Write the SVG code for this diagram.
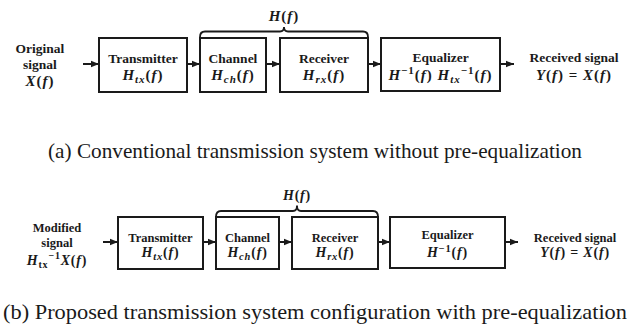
<svg xmlns="http://www.w3.org/2000/svg" width="632" height="332" viewBox="0 0 632 332">
<defs>
<marker id="ah" viewBox="0 0 8 8" refX="8" refY="4" markerWidth="8" markerHeight="8" markerUnits="userSpaceOnUse" orient="auto">
<path d="M0,0.8 L8,4 L0,7.2 Z" fill="#1a1a1a"/>
</marker>
<style>
.box{fill:#fff;stroke:#1a1a1a;stroke-width:2}
.ln{fill:none;stroke:#1a1a1a;stroke-width:2}
.br{fill:none;stroke:#1a1a1a;stroke-width:1.8}
.t{font-family:"Liberation Serif","Times New Roman",serif;font-weight:bold;fill:#1a1a1a;text-anchor:middle}
.a{font-size:13.5px}
.b{font-size:12.5px}
.ma{font-size:15px;font-style:italic;letter-spacing:1px}
.mb{font-size:14px;font-style:italic;letter-spacing:0.8px}
.u{font-style:normal}
.cap{font-family:"Liberation Serif","Times New Roman",serif;font-size:21px;fill:#1a1a1a;text-anchor:middle}
</style>
</defs>
<rect width="632" height="332" fill="#fff"/>

<g id="connectors">
<line class="ln" x1="83" y1="64" x2="99" y2="64" marker-end="url(#ah)"/>
<line class="ln" x1="187" y1="64" x2="200" y2="64" marker-end="url(#ah)"/>
<line class="ln" x1="266" y1="64" x2="280" y2="64" marker-end="url(#ah)"/>
<line class="ln" x1="368" y1="64" x2="381" y2="64" marker-end="url(#ah)"/>
<line class="ln" x1="500" y1="64" x2="514" y2="64" marker-end="url(#ah)"/>
<line class="ln" x1="103" y1="242" x2="118" y2="242" marker-end="url(#ah)"/>
<line class="ln" x1="203" y1="242" x2="216" y2="242" marker-end="url(#ah)"/>
<line class="ln" x1="279" y1="242" x2="292" y2="242" marker-end="url(#ah)"/>
<line class="ln" x1="378" y1="242" x2="390" y2="242" marker-end="url(#ah)"/>
<line class="ln" x1="505" y1="242" x2="518" y2="242" marker-end="url(#ah)"/>
</g>

<!-- Row (a) -->
<g id="a-input">
<text class="t a" x="40" y="53">Original</text>
<text class="t a" x="40" y="69">signal</text>
<text class="t ma" x="40" y="86">X<tspan class="u">(</tspan>f<tspan class="u">)</tspan></text>
</g>
<g id="a-transmitter">
<rect class="box" x="99" y="38" width="88" height="54"/>
<text class="t a" x="143" y="63">Transmitter</text>
<text class="t ma" x="143" y="80">H<tspan font-size="11" dy="3">tx</tspan><tspan class="u" dy="-3">(</tspan>f<tspan class="u">)</tspan></text>
</g>
<g id="a-channel">
<rect class="box" x="200" y="38" width="66" height="54"/>
<text class="t a" x="233" y="63">Channel</text>
<text class="t ma" x="233" y="80">H<tspan font-size="11" dy="3">ch</tspan><tspan class="u" dy="-3">(</tspan>f<tspan class="u">)</tspan></text>
</g>
<g id="a-receiver">
<rect class="box" x="280" y="38" width="88" height="54"/>
<text class="t a" x="324" y="63">Receiver</text>
<text class="t ma" x="324" y="80">H<tspan font-size="11" dy="3">rx</tspan><tspan class="u" dy="-3">(</tspan>f<tspan class="u">)</tspan></text>
</g>
<g id="a-equalizer">
<rect class="box" x="381" y="38" width="119" height="53"/>
<text class="t a" x="440.5" y="62">Equalizer</text>
<text class="t ma" x="440.5" y="80">H<tspan class="u" font-size="11" dy="-6">−1</tspan><tspan class="u" dy="6">(</tspan>f<tspan class="u">) </tspan>H<tspan font-size="11" dy="3">tx</tspan><tspan class="u" font-size="11" dy="-9">−1</tspan><tspan class="u" dy="6">(</tspan>f<tspan class="u">)</tspan></text>
</g>
<g id="a-output">
<text class="t a" x="574" y="62">Received signal</text>
<text class="t ma" x="574" y="80">Y<tspan class="u">(</tspan>f<tspan class="u">) = </tspan>X<tspan class="u">(</tspan>f<tspan class="u">)</tspan></text>
</g>
<g id="a-brace">
<path class="br" d="M200,37 Q200,31.5 205,31.5 L280,31.5 Q284,31.5 284,27 Q284,31.5 288,31.5 L363,31.5 Q368,31.5 368,37"/>
<text class="t ma" x="284" y="21">H<tspan class="u">(</tspan>f<tspan class="u">)</tspan></text>
</g>
<text class="cap" x="315" y="158" textLength="534" lengthAdjust="spacingAndGlyphs">(a) Conventional transmission system without pre-equalization</text>

<!-- Row (b) -->
<g id="b-input">
<text class="t b" x="57" y="232">Modified</text>
<text class="t b" x="57" y="247">signal</text>
<text class="t mb" x="57" y="265">H<tspan class="u" font-size="10" dy="3">tx</tspan><tspan class="u" font-size="10" dy="-9">−1</tspan><tspan dy="6">X</tspan><tspan class="u">(</tspan>f<tspan class="u">)</tspan></text>
</g>
<g id="b-transmitter">
<rect class="box" x="118" y="217" width="85" height="52"/>
<text class="t b" x="160.5" y="242">Transmitter</text>
<text class="t mb" x="160.5" y="257">H<tspan font-size="10.5" dy="3">tx</tspan><tspan class="u" dy="-3">(</tspan>f<tspan class="u">)</tspan></text>
</g>
<g id="b-channel">
<rect class="box" x="216" y="217" width="63" height="52"/>
<text class="t b" x="247.5" y="242">Channel</text>
<text class="t mb" x="247.5" y="257">H<tspan font-size="10.5" dy="3">ch</tspan><tspan class="u" dy="-3">(</tspan>f<tspan class="u">)</tspan></text>
</g>
<g id="b-receiver">
<rect class="box" x="292" y="217" width="86" height="52"/>
<text class="t b" x="335" y="242">Receiver</text>
<text class="t mb" x="335" y="257">H<tspan font-size="10.5" dy="3">rx</tspan><tspan class="u" dy="-3">(</tspan>f<tspan class="u">)</tspan></text>
</g>
<g id="b-equalizer">
<rect class="box" x="390" y="217" width="115" height="51"/>
<text class="t b" x="447.5" y="238.5">Equalizer</text>
<text class="t mb" x="447.5" y="257">H<tspan class="u" font-size="10.5" dy="-5">−1</tspan><tspan class="u" dy="5">(</tspan>f<tspan class="u">)</tspan></text>
</g>
<g id="b-output">
<text class="t b" x="575" y="242">Received signal</text>
<text class="t mb" x="575" y="257">Y<tspan class="u">(</tspan>f<tspan class="u">) = </tspan>X<tspan class="u">(</tspan>f<tspan class="u">)</tspan></text>
</g>
<g id="b-brace">
<path class="br" d="M216,217 Q216,211 221,211 L293,211 Q297,211 297,205.5 Q297,211 301,211 L373,211 Q378,211 378,217"/>
<text class="t mb" x="297" y="200">H<tspan class="u">(</tspan>f<tspan class="u">)</tspan></text>
</g>
<text class="cap" x="315" y="319" textLength="624" lengthAdjust="spacingAndGlyphs">(b) Proposed transmission system configuration with pre-equalization</text>
</svg>
